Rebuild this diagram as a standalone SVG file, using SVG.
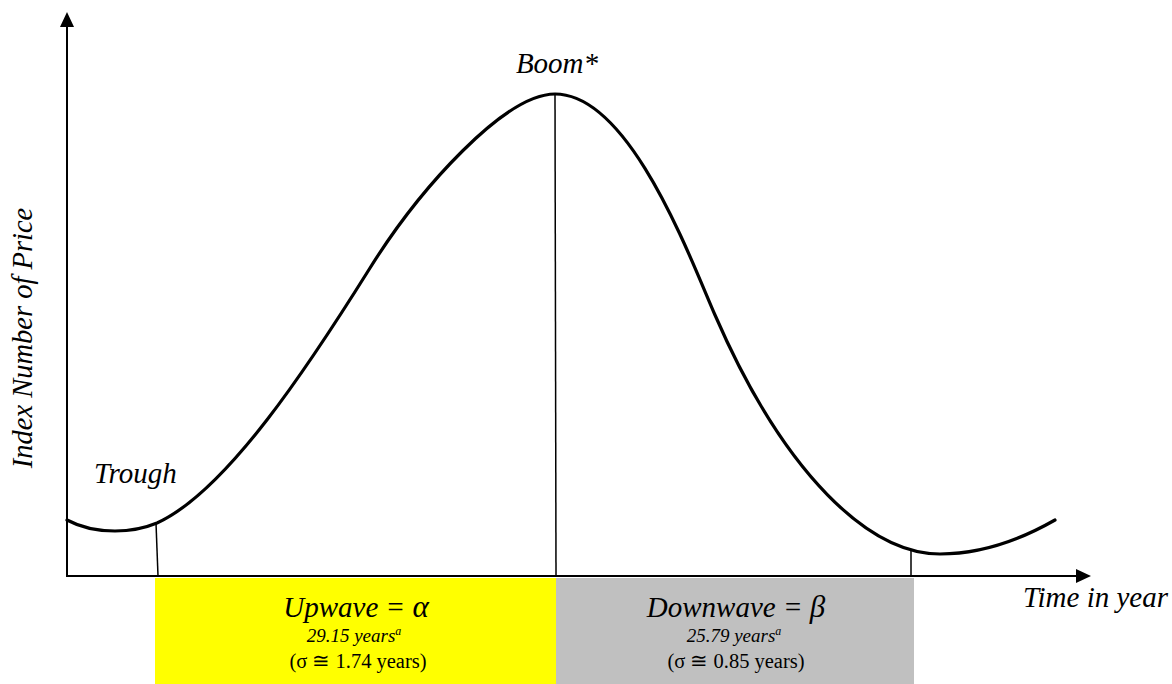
<svg xmlns="http://www.w3.org/2000/svg" width="1172" height="684" viewBox="0 0 1172 684">
<style>
text{font-family:'Liberation Serif','Times New Roman','DejaVu Serif',serif;fill:#000}
.i{font-style:italic}
.axis{stroke:#000;stroke-width:2;fill:none}
.tick{stroke:#000;stroke-width:1.5;fill:none}
.curve{stroke:#000;stroke-width:3.2;fill:none;stroke-linecap:round}
</style>
<rect width="1172" height="684" fill="#fff"/>
<g id="upwave">
<rect x="155" y="578" width="401" height="106" fill="#ffff00"/>
<text class="i" x="356" y="617" font-size="29" text-anchor="middle">Upwave = <tspan font-size="31">α</tspan></text>
<text class="i" x="354" y="642" font-size="19" text-anchor="middle">29.15 years<tspan font-size="12" dy="-7">a</tspan></text>
<text x="358" y="668" font-size="20.5" text-anchor="middle">(σ ≅ 1.74 years)</text>
</g>
<g id="downwave">
<rect x="556" y="578" width="358" height="106" fill="#c0c0c0"/>
<text class="i" x="736" y="617" font-size="29" text-anchor="middle">Downwave = <tspan font-size="31">β</tspan></text>
<text class="i" x="734" y="642" font-size="19" text-anchor="middle">25.79 years<tspan font-size="12" dy="-7">a</tspan></text>
<text x="736" y="668" font-size="20.5" text-anchor="middle">(σ ≅ 0.85 years)</text>
</g>
<g id="axes">
<line class="axis" x1="67" y1="576" x2="67" y2="24"/>
<polygon points="67,12 60,27 74,27" fill="#000"/>
<line class="axis" x1="66" y1="576" x2="1077" y2="576"/>
<polygon points="1091,576 1076,569 1076,583" fill="#000"/>
</g>
<g id="connectors">
<line class="tick" x1="156" y1="523" x2="158" y2="576"/>
<line class="tick" x1="555" y1="94" x2="556" y2="576"/>
<line class="tick" x1="911" y1="551" x2="911" y2="576"/>
</g>
<g id="curve">
<path class="curve" d="M67,520 C80,527 98,531 115,531 C130,531 145,528 157,523 C227,491 310,364 370,268 C420,188 505,94 555,94 C630,94 690,258 715,315 C785,476 870,554 940,554 C980,554 1020,540 1055,520"/>
</g>
<g id="labels">
<text class="i" x="557" y="73" font-size="29" text-anchor="middle">Boom*</text>
<text class="i" x="94" y="483" font-size="29">Trough</text>
<text class="i" x="1023" y="607" font-size="29">Time in year</text>
<text class="i" font-size="28.5" text-anchor="middle" transform="translate(32,338) rotate(-90)">Index Number of Price</text>
</g>
</svg>
